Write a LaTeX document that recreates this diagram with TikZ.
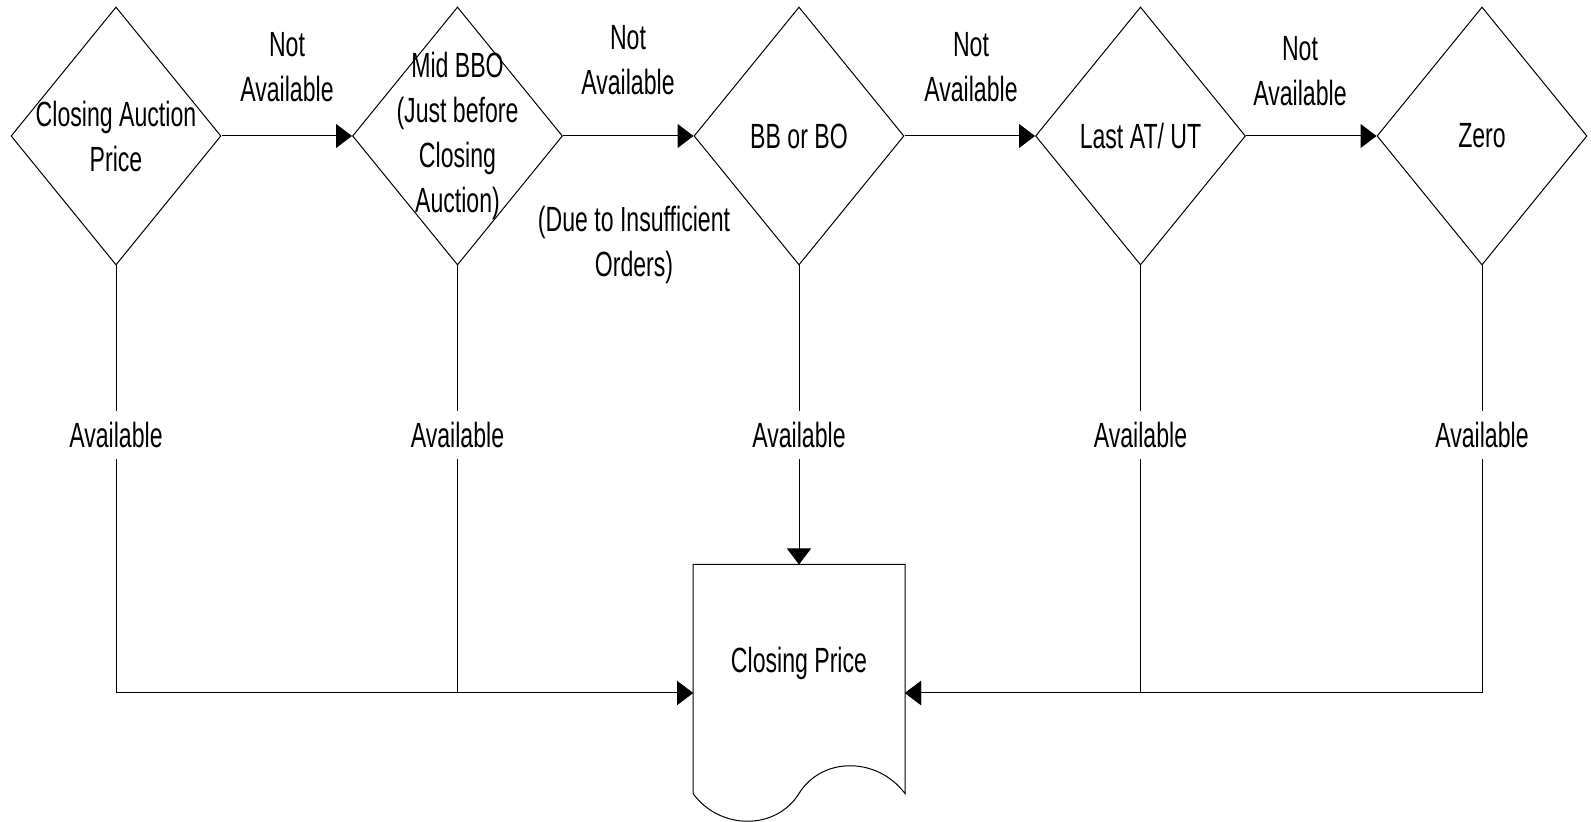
\documentclass[tikz,border=0pt]{standalone}
\usepackage{fontspec}
\setmainfont{Liberation Sans}[FakeStretch=0.66]
\usetikzlibrary{shapes.geometric,arrows.meta}

\begin{document}
\begin{tikzpicture}[x=0.5pt,y=-0.5pt,line width=0.5pt,font=\fontsize{17.5pt}{22.5pt}\selectfont]
 \tikzstyle{arrow} = [-{Triangle[length=8pt,width=12pt]}];
 \tikzstyle{decision} = [diamond,draw=black,minimum width=105pt,minimum height=129pt,inner sep=0pt,node distance=170.75pt];
 \tikzstyle{docbox} = [rectangle,minimum width=105.5pt,minimum height=128pt,inner sep=0pt,node distance=278.5pt];
 \tikzstyle{txt} = [align=center,inner sep=0pt];
 \tikzstyle{avail} = [inner xsep=2pt,inner ysep=5.3pt,node distance=149.5pt];

 \useasboundingbox (0,0) rectangle (1591,822);

 \node[decision,name=d1] at (116,136) {};
 \node[decision,name=d2,right of=d1] {};
 \node[decision,name=d3,right of=d2] {};
 \node[decision,name=d4,right of=d3] {};
 \node[decision,name=d5,right of=d4] {};

 \node[txt,name=t1] at (d1) {Closing Auction\\Price};
 \node[txt,name=t2] at (d2) {Mid BBO\\(Just before\\Closing\\Auction)};
 \node[txt,name=t3] at (d3) {BB or BO};
 \node[txt,name=t4] at (d4) {Last AT/ UT};
 \node[txt,name=t5] at (d5) {Zero};

 \node[docbox,name=cp,below of=d3] {};
 \node[txt,name=cpt] at ([yshift=15pt]cp.center) {Closing Price};
 \draw (cp.north west) -- (cp.north east) -- ([yshift=14pt]cp.south east)
   .. controls +(-28,-37) and +(23,-37) .. ([yshift=14pt]cp.south)
   .. controls +(-23,37) and +(27,37) .. ([yshift=14pt]cp.south west) -- cycle;

 \node[txt,name=n1] at (287,67.5) {Not\\Available};
 \node[txt,name=n2] at (628,60.5) {Not\\Available};
 \node[txt,name=n3] at (971,67) {Not\\Available};
 \node[txt,name=n4] at (1300,71) {Not\\Available};
 \node[txt,name=dt] at (634,245) {(Due to Insufficient\\Orders)};

 \node[avail,name=a1,below of=d1] {Available};
 \node[avail,name=a2,below of=d2] {Available};
 \node[avail,name=a3,below of=d3] {Available};
 \node[avail,name=a4,below of=d4] {Available};
 \node[avail,name=a5,below of=d5] {Available};

 \draw[arrow] (d1.east) -- (d2.west);
 \draw[arrow] (d2.east) -- (d3.west);
 \draw[arrow] (d3.east) -- (d4.west);
 \draw[arrow] (d4.east) -- (d5.west);

 \draw[arrow] (d1.south) -- (a1) |- (cp.west);
 \draw[arrow] (d2.south) -- (a2) |- (cp.west);
 \draw[arrow] (d3.south) -- (a3) -- (cp);
 \draw[arrow] (d4.south) -- (a4) |- (cp.east);
 \draw[arrow] (d5.south) -- (a5) |- (cp.east);
\end{tikzpicture}
\end{document}
